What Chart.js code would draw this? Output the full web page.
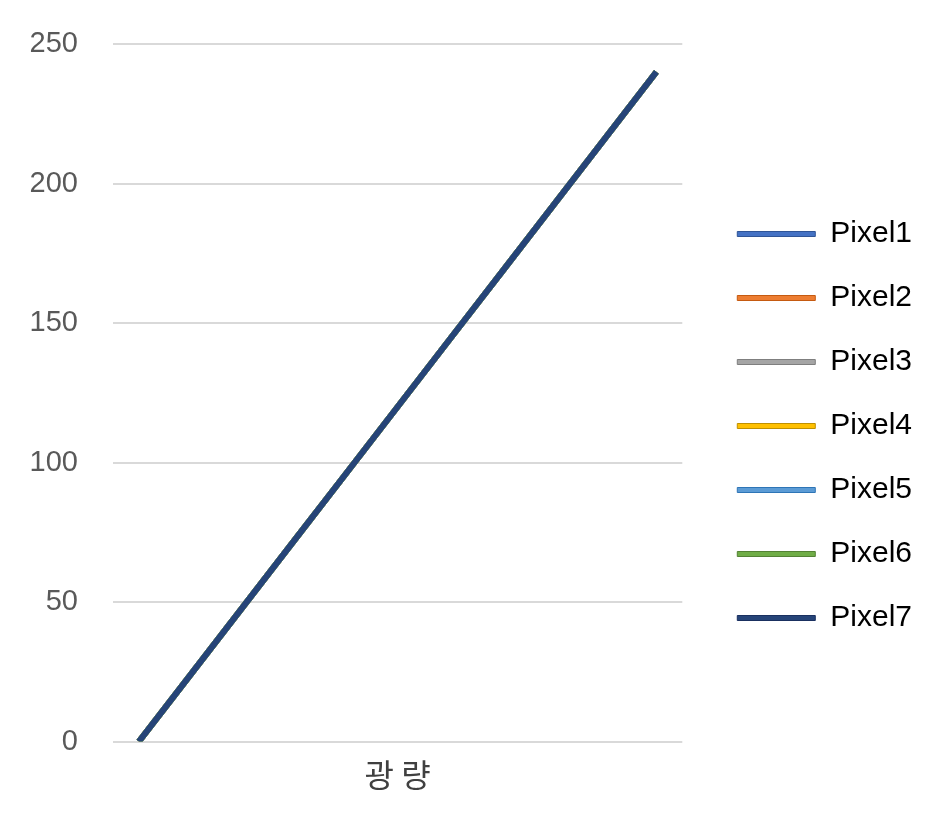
<!DOCTYPE html>
<html>
<head>
<meta charset="utf-8">
<script src="https://cdn.jsdelivr.net/npm/chart.js@4.4.1/dist/chart.umd.min.js"></script>
<style>
html,body{margin:0;padding:0;background:#fff;}
#wrap{width:932px;height:820px;}
</style>
</head>
<body>
<div id="wrap"><canvas id="c" width="932" height="820"></canvas></div>
<script>
const categories = ['1','2','3','4','5','6','7','8','9','10','11'];
const seriesNames = ['Pixel1','Pixel2','Pixel3','Pixel4','Pixel5','Pixel6','Pixel7'];
const pixel1 = [0,24,48,72,96,120,144,168,192,216,240];
const pixel2 = [0,24,48,72,96,120,144,168,192,216,240];
const pixel3 = [0,24,48,72,96,120,144,168,192,216,240];
const pixel4 = [0,24,48,72,96,120,144,168,192,216,240];
const pixel5 = [0,24,48,72,96,120,144,168,192,216,240];
const pixel6 = [0,24,48,72,96,120,144,168,192,216,240];
const pixel7 = [0,24,48,72,96,120,144,168,192,216,240];
const yTicks = [0,50,100,150,200,250];
const xTitle = '광 량';

const seriesValues = [pixel1,pixel2,pixel3,pixel4,pixel5,pixel6,pixel7];
const colors = ['#4472C4','#ED7D31','#A5A5A5','#FFC000','#5B9BD5','#70AD47','#264478'];
const borders = ['#2F5597','#C55A11','#7F7F7F','#BF9000','#2E75B6','#548235','#1A3060'];

const datasets = seriesNames.map((n,i)=>({
  label:n,
  data:seriesValues[i],
  borderColor:colors[i],
  backgroundColor:colors[i],
  borderWidth:6,
  pointRadius:0,
  pointHoverRadius:0,
  fill:false,
  tension:0,
  order:seriesNames.length - i
}));

const LEGEND_GAP = 21;
const LEGEND_SHIFT_Y = 2;
const legendGapPlugin = {
  id:'legendGap',
  afterInit(chart){
    const lg = chart.legend;
    if(!lg) return;
    const origFit = lg.fit.bind(lg);
    lg.fit = function(){ origFit(); this.width += LEGEND_GAP; };
    const origDraw = lg.draw.bind(lg);
    lg.draw = function(){
      this.left += LEGEND_GAP; this.top += LEGEND_SHIFT_Y; this.bottom += LEGEND_SHIFT_Y;
      origDraw();
      this.left -= LEGEND_GAP; this.top -= LEGEND_SHIFT_Y; this.bottom -= LEGEND_SHIFT_Y;
    };
  }
};

new Chart(document.getElementById('c'), {
  type:'line',
  data:{labels:categories, datasets:datasets},
  plugins:[legendGapPlugin],
  options:{
    responsive:false,
    animation:false,
    devicePixelRatio:1,
    layout:{padding:{top:44,left:29,right:10,bottom:16}},
    plugins:{
      tooltip:{enabled:false},
      legend:{
        position:'right',
        align:'center',
        labels:{
          boxWidth:78,
          boxHeight:5,
          padding:34,
          color:'#404040',
          font:{family:'Liberation Sans', size:30},
          sort:(a,b)=>a.datasetIndex-b.datasetIndex,
          generateLabels:(chart)=>chart.data.datasets.map((d,i)=>({
            text:d.label,
            fillStyle:colors[i],
            strokeStyle:borders[i],
            lineWidth:1,
            datasetIndex:i,
            hidden:false
          }))
        }
      }
    },
    scales:{
      x:{
        type:'category',
        offset:true,
        grid:{display:false, drawTicks:false},
        border:{display:false},
        ticks:{display:false},
        title:{display:true, text:xTitle, color:'#404040',
          font:{family:'Noto Sans CJK KR', size:32}, padding:{top:14,bottom:10}}
      },
      y:{
        min:0, max:250,
        afterBuildTicks:(s)=>{s.ticks = yTicks.map(v=>({value:v}));},
        afterFit:(s)=>{s.width = 84; s.paddingTop = 0; s.paddingBottom = 0;},
        grid:{color:'#D9D9D9', lineWidth:2, drawTicks:false},
        border:{display:false},
        ticks:{color:'#595959', padding:35, font:{family:'Liberation Sans', size:29}}
      }
    }
  }
});
</script>
</body>
</html>
